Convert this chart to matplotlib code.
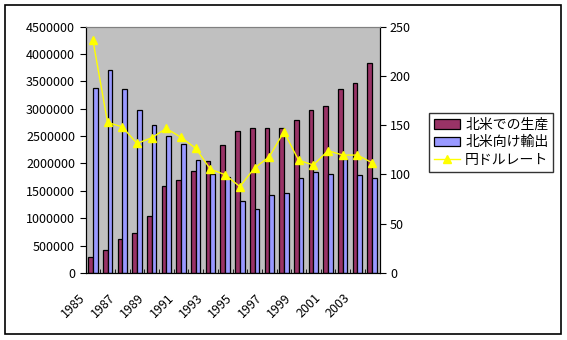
import matplotlib.pyplot as plt
import matplotlib.transforms as mtransforms
import numpy as np

plt.rcParams['font.family'] = ['Noto Sans CJK JP', 'DejaVu Sans']

years = [1985, 1986, 1987, 1988, 1989, 1990, 1991, 1992, 1993, 1994,
         1995, 1996, 1997, 1998, 1999, 2000, 2001, 2002, 2003, 2004]
seisan = [295000, 424000, 619000, 728000, 1037000, 1588000, 1698000, 1856000, 2038000, 2335000,
          2584000, 2638000, 2656000, 2656000, 2784000, 2984000, 3057000, 3366000, 3475000, 3839000]
yushutsu = [3385000, 3710000, 3366000, 2970000, 2710000, 2510000, 2347000, 2056000, 1801000, 1760000,
            1310000, 1165000, 1419000, 1456000, 1728000, 1838000, 1800000, 2074000, 1783000, 1728000]
rate = [236.6, 152.7, 148.2, 131.4, 137.1, 146.6, 137.5, 126.4, 105.2, 99.7,
        87.6, 106.5, 117.9, 143.2, 114.3, 109.5, 124.0, 119.6, 119.6, 111.8]

fig = plt.figure(figsize=(5.67, 3.40), dpi=100)
# outer chart border
fig.patches.append(plt.Rectangle((5 / 567, 6 / 340), 556 / 567, 329 / 340,
                                 transform=fig.transFigure, fill=False,
                                 edgecolor='black', linewidth=1.2))

ax = fig.add_axes([85.5 / 567, 1 - 273 / 340, 294 / 567, 246.5 / 340])
ax.set_facecolor('#C0C0C0')

x = np.arange(len(years))
w = 0.32
b1 = ax.bar(x - w / 2, seisan, w, color='#993366', edgecolor='black', linewidth=0.9,
            label='北米での生産')
b2 = ax.bar(x + w / 2, yushutsu, w, color='#9999FF', edgecolor='black', linewidth=0.9,
            label='北米向け輸出')

ax.set_xlim(-0.5, len(years) - 0.5)
ax.set_ylim(0, 4500000)
ax.set_yticks(np.arange(0, 4500001, 500000))
ax.set_yticklabels([str(v) for v in range(0, 4500001, 500000)])
ax.set_xticks(x[::2])
ax.set_xticklabels([str(y) for y in years[::2]], rotation=45, ha='right',
                   rotation_mode='anchor')
ax.set_xticks(np.arange(-0.5, len(years)), minor=True)
ax.tick_params(axis='x', which='major', length=0, labelsize=9, pad=13)
ax.tick_params(axis='x', which='minor', direction='in', length=3)
ax.tick_params(axis='y', labelsize=9, length=4)
ax.spines['top'].set_color('#808080')
shift = mtransforms.ScaledTranslation(-0.14, 0, fig.dpi_scale_trans)
for lab in ax.get_xticklabels():
    lab.set_transform(lab.get_transform() + shift)

ax2 = ax.twinx()
ln, = ax2.plot(x, rate, color='#FFFF00', linewidth=1, marker='^', markersize=6,
               label='円ドルレート')
ax2.set_ylim(0, 250)
ax2.set_yticks(np.arange(0, 251, 50))
ax2.tick_params(axis='y', labelsize=9, length=4)
ax2.spines['top'].set_color('#808080')

leg = fig.legend(handles=[b1, b2, ln], loc='upper left',
                 bbox_to_anchor=(429 / 567, 1 - 113 / 340), fontsize=10,
                 frameon=True, fancybox=False, borderpad=0.35, labelspacing=0.25,
                 handlelength=1.9, handletextpad=0.35, borderaxespad=0)
leg.get_frame().set_edgecolor('black')
leg.get_frame().set_linewidth(1)

plt.savefig('out.png', dpi=100)
